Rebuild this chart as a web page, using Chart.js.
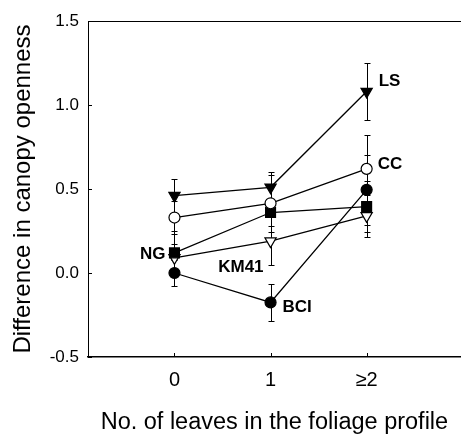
<!DOCTYPE html>
<html>
<head>
<meta charset="utf-8">
<script src="https://cdn.jsdelivr.net/npm/chart.js@4.4.0/dist/chart.umd.min.js"></script>
<style>
  html, body { margin: 0; padding: 0; background: #fff; }
</style>
</head>
<body>
<canvas id="chart" width="469" height="434"></canvas>
<script>
// x categories (number of leaves) and their tick labels
const leafCounts = [0, 1, 2];
const leafLabels = ['0', '1', '\u22652'];
const yTicks = [-0.5, 0, 0.5, 1.0, 1.5];

// mean difference in canopy openness per site, with error bars
const lsValues = [0.46, 0.51, 1.08];
const lsErrors = [0.10, 0.09, 0.17];
const ccValues = [0.33, 0.415, 0.62];
const ccErrors = [0.10, 0.17, 0.20];
const ngValues = [0.12, 0.36, 0.395];
const ngErrors = [0.13, 0.08, 0.15];
const kmValues = [0.09, 0.19, 0.34];
const kmErrors = [0.08, 0.145, 0.125];
const bciValues = [0.0, -0.175, 0.495];
const bciErrors = [0.08, 0.11, 0.21];

const FONT = "'Liberation Sans', Arial, Helvetica, sans-serif";
Chart.defaults.font.family = FONT;
Chart.defaults.color = '#000';

const toPoints = (values) => values.map((v, i) => ({ x: leafCounts[i], y: v }));

const makeSeries = (label, values, errors, style) => ({
  label,
  data: toPoints(values),
  errors,
  borderColor: '#000',
  borderWidth: 1.3,
  pointBorderColor: '#000',
  pointBorderWidth: 1.2,
  tension: 0,
  ...style,
});

// where each site name sits, relative to one of its points
const labelPlacement = {
  LS: { index: 2, dx: 12, dy: -10, align: 'left' },
  CC: { index: 2, dx: 11, dy: -5, align: 'left' },
  NG: { index: 0, dx: -9, dy: 1, align: 'right' },
  KM41: { index: 1, dx: -7, dy: 26, align: 'right' },
  BCI: { index: 1, dx: 12, dy: 5, align: 'left' },
};

const errorBars = {
  id: 'errorBars',
  beforeDatasetsDraw(chart) {
    const { ctx, scales: { x, y } } = chart;
    ctx.save();
    ctx.strokeStyle = '#000';
    ctx.lineWidth = 1;
    chart.data.datasets.forEach((ds) => {
      ds.data.forEach((p, i) => {
        const px = Math.round(x.getPixelForValue(p.x)) + 0.5;
        const top = Math.round(y.getPixelForValue(p.y + ds.errors[i])) + 0.5;
        const bottom = Math.round(y.getPixelForValue(p.y - ds.errors[i])) + 0.5;
        ctx.beginPath();
        ctx.moveTo(px, top);
        ctx.lineTo(px, bottom);
        ctx.moveTo(px - 3, top);
        ctx.lineTo(px + 3, top);
        ctx.moveTo(px - 3, bottom);
        ctx.lineTo(px + 3, bottom);
        ctx.stroke();
      });
    });
    ctx.restore();
  },
};

const innerTicks = {
  id: 'innerTicks',
  afterDraw(chart) {
    const { ctx, chartArea, scales: { x, y } } = chart;
    ctx.save();
    ctx.strokeStyle = '#000';
    ctx.lineWidth = 1;
    ctx.beginPath();
    y.ticks.forEach(({ value }) => {
      const py = Math.round(y.getPixelForValue(value)) + 0.5;
      ctx.moveTo(chartArea.left, py);
      ctx.lineTo(chartArea.left + 4, py);
    });
    x.ticks.forEach(({ value }) => {
      const px = Math.round(x.getPixelForValue(value)) + 0.5;
      ctx.moveTo(px, chartArea.bottom);
      ctx.lineTo(px, chartArea.bottom - 4);
    });
    ctx.stroke();
    ctx.restore();
  },
};

const siteLabels = {
  id: 'siteLabels',
  afterDatasetsDraw(chart) {
    const { ctx } = chart;
    ctx.save();
    ctx.fillStyle = '#000';
    ctx.font = `bold 17px ${FONT}`;
    ctx.textBaseline = 'middle';
    chart.data.datasets.forEach((ds, di) => {
      const place = labelPlacement[ds.label];
      const pt = chart.getDatasetMeta(di).data[place.index];
      ctx.textAlign = place.align;
      ctx.fillText(ds.label, pt.x + place.dx, pt.y + place.dy);
    });
    ctx.restore();
  },
};

new Chart(document.getElementById('chart'), {
  type: 'line',
  plugins: [errorBars, innerTicks, siteLabels],
  data: {
    datasets: [
      makeSeries('LS', lsValues, lsErrors, {
        pointStyle: 'triangle', rotation: 180, pointRadius: 6.5, pointBackgroundColor: '#000',
      }),
      makeSeries('CC', ccValues, ccErrors, {
        pointStyle: 'circle', pointRadius: 5.5, pointBackgroundColor: '#fff',
      }),
      makeSeries('NG', ngValues, ngErrors, {
        pointStyle: 'rect', pointRadius: 7, pointBackgroundColor: '#000',
      }),
      makeSeries('KM41', kmValues, kmErrors, {
        pointStyle: 'triangle', rotation: 180, pointRadius: 6.5, pointBackgroundColor: '#fff',
      }),
      makeSeries('BCI', bciValues, bciErrors, {
        pointStyle: 'circle', pointRadius: 5.5, pointBackgroundColor: '#000',
      }),
    ],
  },
  options: {
    responsive: false,
    animation: false,
    devicePixelRatio: 1,
    layout: { padding: 0 },
    plugins: {
      legend: { display: false },
      tooltip: { enabled: false },
    },
    scales: {
      x: {
        type: 'linear',
        position: 'bottom',
        min: -0.9,
        max: 2.98,
        afterBuildTicks: (scale) => { scale.ticks = leafCounts.map((value) => ({ value })); },
        afterFit: (scale) => { scale.height = 77; },
        grid: { display: true, drawOnChartArea: false, drawTicks: false },
        border: { display: true, color: '#000', width: 1.5 },
        ticks: {
          padding: 11,
          autoSkip: false,
          maxRotation: 0,
          font: { size: 20 },
          callback: (value, index) => leafLabels[index],
        },
        title: {
          display: true,
          text: 'No. of leaves in the foliage profile',
          font: { size: 23.5, lineHeight: 1 },
          padding: 0,
        },
      },
      x2: {
        type: 'linear',
        position: 'top',
        min: 0,
        max: 1,
        afterFit: (scale) => { scale.height = 21; },
        grid: { display: true, drawOnChartArea: false, drawTicks: false },
        border: { display: true, color: '#000', width: 1 },
        ticks: { display: false },
      },
      y: {
        type: 'linear',
        position: 'left',
        min: -0.5,
        max: 1.5,
        afterBuildTicks: (scale) => { scale.ticks = yTicks.map((value) => ({ value })); },
        afterFit: (scale) => { scale.width = 88; },
        grid: { display: true, drawOnChartArea: false, drawTicks: false },
        border: { display: true, color: '#000', width: 1 },
        ticks: {
          padding: 9,
          font: { size: 17 },
          callback: (value) => value.toFixed(1),
        },
        title: {
          display: true,
          text: 'Difference in canopy openness',
          font: { size: 24, lineHeight: 1 },
          padding: { top: 11, bottom: 0 },
        },
      },
    },
  },
});
</script>
</body>
</html>
